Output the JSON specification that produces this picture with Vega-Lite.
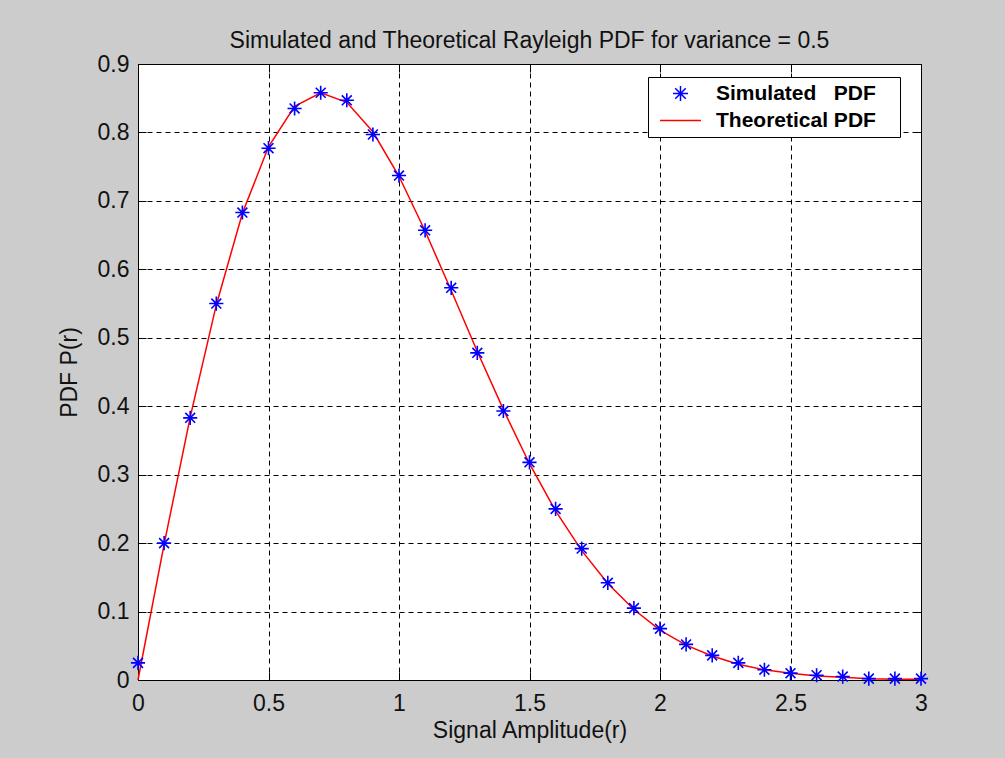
{
  "$schema": "https://vega.github.io/schema/vega-lite/v6.json",
  "autosize": {"type": "none"},
  "padding": {"left": 138, "top": 64, "right": 84, "bottom": 78},
  "width": 783,
  "height": 616,
  "background": "#cccccc",
  "title": {
    "text": "Simulated and Theoretical Rayleigh PDF for variance = 0.5",
    "font": "Liberation Sans",
    "fontSize": 23,
    "fontWeight": "normal",
    "color": "#111111",
    "baseline": "alphabetic",
    "anchor": "middle",
    "offset": 18,
    "dy": 36
  },
  "datasets": {
    "sim": [
      {"r": 0.0, "pdf": 0.025, "series": "Simulated PDF"},
      {"r": 0.1, "pdf": 0.200, "series": "Simulated PDF"},
      {"r": 0.2, "pdf": 0.383, "series": "Simulated PDF"},
      {"r": 0.3, "pdf": 0.550, "series": "Simulated PDF"},
      {"r": 0.4, "pdf": 0.683, "series": "Simulated PDF"},
      {"r": 0.5, "pdf": 0.777, "series": "Simulated PDF"},
      {"r": 0.6, "pdf": 0.835, "series": "Simulated PDF"},
      {"r": 0.7, "pdf": 0.858, "series": "Simulated PDF"},
      {"r": 0.8, "pdf": 0.847, "series": "Simulated PDF"},
      {"r": 0.9, "pdf": 0.797, "series": "Simulated PDF"},
      {"r": 1.0, "pdf": 0.737, "series": "Simulated PDF"},
      {"r": 1.1, "pdf": 0.657, "series": "Simulated PDF"},
      {"r": 1.2, "pdf": 0.573, "series": "Simulated PDF"},
      {"r": 1.3, "pdf": 0.478, "series": "Simulated PDF"},
      {"r": 1.4, "pdf": 0.393, "series": "Simulated PDF"},
      {"r": 1.5, "pdf": 0.318, "series": "Simulated PDF"},
      {"r": 1.6, "pdf": 0.250, "series": "Simulated PDF"},
      {"r": 1.7, "pdf": 0.192, "series": "Simulated PDF"},
      {"r": 1.8, "pdf": 0.142, "series": "Simulated PDF"},
      {"r": 1.9, "pdf": 0.105, "series": "Simulated PDF"},
      {"r": 2.0, "pdf": 0.075, "series": "Simulated PDF"},
      {"r": 2.1, "pdf": 0.052, "series": "Simulated PDF"},
      {"r": 2.2, "pdf": 0.036, "series": "Simulated PDF"},
      {"r": 2.3, "pdf": 0.025, "series": "Simulated PDF"},
      {"r": 2.4, "pdf": 0.015, "series": "Simulated PDF"},
      {"r": 2.5, "pdf": 0.010, "series": "Simulated PDF"},
      {"r": 2.6, "pdf": 0.007, "series": "Simulated PDF"},
      {"r": 2.7, "pdf": 0.005, "series": "Simulated PDF"},
      {"r": 2.8, "pdf": 0.002, "series": "Simulated PDF"},
      {"r": 2.9, "pdf": 0.002, "series": "Simulated PDF"},
      {"r": 3.0, "pdf": 0.002, "series": "Simulated PDF"}
    ],
    "theo": [
      {"r": 0.0, "pdf": 0.000, "series": "Theoretical PDF"},
      {"r": 0.1, "pdf": 0.198, "series": "Theoretical PDF"},
      {"r": 0.2, "pdf": 0.384, "series": "Theoretical PDF"},
      {"r": 0.3, "pdf": 0.548, "series": "Theoretical PDF"},
      {"r": 0.4, "pdf": 0.682, "series": "Theoretical PDF"},
      {"r": 0.5, "pdf": 0.779, "series": "Theoretical PDF"},
      {"r": 0.6, "pdf": 0.838, "series": "Theoretical PDF"},
      {"r": 0.7, "pdf": 0.858, "series": "Theoretical PDF"},
      {"r": 0.8, "pdf": 0.844, "series": "Theoretical PDF"},
      {"r": 0.9, "pdf": 0.801, "series": "Theoretical PDF"},
      {"r": 1.0, "pdf": 0.736, "series": "Theoretical PDF"},
      {"r": 1.1, "pdf": 0.656, "series": "Theoretical PDF"},
      {"r": 1.2, "pdf": 0.569, "series": "Theoretical PDF"},
      {"r": 1.3, "pdf": 0.480, "series": "Theoretical PDF"},
      {"r": 1.4, "pdf": 0.395, "series": "Theoretical PDF"},
      {"r": 1.5, "pdf": 0.316, "series": "Theoretical PDF"},
      {"r": 1.6, "pdf": 0.247, "series": "Theoretical PDF"},
      {"r": 1.7, "pdf": 0.189, "series": "Theoretical PDF"},
      {"r": 1.8, "pdf": 0.141, "series": "Theoretical PDF"},
      {"r": 1.9, "pdf": 0.103, "series": "Theoretical PDF"},
      {"r": 2.0, "pdf": 0.073, "series": "Theoretical PDF"},
      {"r": 2.1, "pdf": 0.051, "series": "Theoretical PDF"},
      {"r": 2.2, "pdf": 0.035, "series": "Theoretical PDF"},
      {"r": 2.3, "pdf": 0.023, "series": "Theoretical PDF"},
      {"r": 2.4, "pdf": 0.015, "series": "Theoretical PDF"},
      {"r": 2.5, "pdf": 0.010, "series": "Theoretical PDF"},
      {"r": 2.6, "pdf": 0.006, "series": "Theoretical PDF"},
      {"r": 2.7, "pdf": 0.004, "series": "Theoretical PDF"},
      {"r": 2.8, "pdf": 0.002, "series": "Theoretical PDF"},
      {"r": 2.9, "pdf": 0.001, "series": "Theoretical PDF"},
      {"r": 3.0, "pdf": 0.001, "series": "Theoretical PDF"}
    ]
  },
  "layer": [
    {
      "data": {"name": "theo"},
      "mark": {"type": "line", "color": "#ff0000", "strokeWidth": 1.5},
      "encoding": {
        "x": {
          "field": "r", "type": "quantitative",
          "scale": {"domain": [0, 3], "nice": false, "zero": false},
          "axis": {
            "orient": "bottom",
            "values": [0, 0.5, 1, 1.5, 2, 2.5, 3],
            "title": "Signal Amplitude(r)",
            "grid": true,
            "tickSize": -8,
            "labelPadding": 20,
            "titlePadding": 4,
            "format": "~g",
            "labelFlush": false,
            "labelOverlap": false
          }
        },
        "y": {
          "field": "pdf", "type": "quantitative",
          "scale": {"domain": [0, 0.9], "nice": false, "zero": false},
          "axis": {
            "orient": "left",
            "values": [0, 0.1, 0.2, 0.3, 0.4, 0.5, 0.6, 0.7, 0.8, 0.9],
            "title": "PDF P(r)",
            "grid": true,
            "tickSize": -8,
            "labelPadding": 17,
            "titlePadding": 16,
            "format": "~g",
            "labelFlush": false,
            "labelOverlap": false
          }
        },
        "color": {
          "field": "series", "type": "nominal",
          "scale": {"domain": ["Simulated PDF", "Theoretical PDF"], "range": ["#0000ff", "#ff0000"]},
          "legend": {
            "orient": "none", "legendX": 510, "legendY": 13, "title": null,
            "padding": 6, "strokeColor": "#000000", "fillColor": "#ffffff",
            "labelFont": "Liberation Sans", "labelFontSize": 21, "labelFontWeight": "bold", "labelColor": "#000000", "labelLimit": 400,
            "symbolOffset": 16, "labelOffset": 25, "rowPadding": 5, "symbolSize": 225, "symbolStrokeWidth": 1.5,
            "labelExpr": "datum.label === 'Simulated PDF' ? 'Simulated\u00a0\u00a0\u00a0PDF\u00a0\u00a0\u00a0\u200b' : datum.label + '\u00a0\u00a0\u00a0\u200b'",
            "encode": {"symbols": {"update": {"size": {"signal": "datum.value === 'Theoretical PDF' ? 1681 : 225"}, "strokeWidth": {"value": 1.5}}}}
          }
        }
      }
    },
    {
      "data": {"name": "sim"},
      "mark": {"type": "point", "filled": false, "opacity": 1, "strokeWidth": 1.6, "size": 200},
      "encoding": {
        "x": {
          "field": "r", "type": "quantitative",
          "axis": {"orient": "top", "values": [0, 0.5, 1, 1.5, 2, 2.5, 3], "labels": false, "title": null, "grid": false, "tickSize": -8}
        },
        "y": {
          "field": "pdf", "type": "quantitative",
          "axis": {"orient": "right", "values": [0, 0.1, 0.2, 0.3, 0.4, 0.5, 0.6, 0.7, 0.8, 0.9], "labels": false, "title": null, "grid": false, "tickSize": -8}
        },
        "color": {"field": "series", "type": "nominal"},
        "shape": {
          "field": "series", "type": "nominal",
          "scale": {"domain": ["Simulated PDF", "Theoretical PDF"], "range": ["M-1,0L1,0M0,-1L0,1M-0.7,-0.7L0.7,0.7M-0.7,0.7L0.7,-0.7", "stroke"]},
          "legend": {
            "orient": "none", "legendX": 510, "legendY": 13, "title": null,
            "padding": 6, "strokeColor": "#000000", "fillColor": "#ffffff",
            "labelFont": "Liberation Sans", "labelFontSize": 21, "labelFontWeight": "bold", "labelColor": "#000000", "labelLimit": 400,
            "symbolOffset": 16, "labelOffset": 25, "rowPadding": 5, "symbolSize": 225, "symbolStrokeWidth": 1.5,
            "labelExpr": "datum.label === 'Simulated PDF' ? 'Simulated\u00a0\u00a0\u00a0PDF\u00a0\u00a0\u00a0\u200b' : datum.label + '\u00a0\u00a0\u00a0\u200b'",
            "encode": {"symbols": {"update": {"size": {"signal": "datum.value === 'Theoretical PDF' ? 1681 : 225"}, "strokeWidth": {"value": 1.5}}}}
          }
        }
      }
    }
  ],
  "config": {
    "view": {"stroke": "#000000", "strokeWidth": 1, "fill": "#ffffff"},
    "axis": {
      "domain": false,
      "tickColor": "#000000",
      "tickWidth": 1,
      "gridColor": "#000000",
      "gridOpacity": 1,
      "gridWidth": 1,
      "gridDash": [5, 4],
      "labelFont": "Liberation Sans",
      "labelFontSize": 23,
      "labelColor": "#111111",
      "titleFont": "Liberation Sans",
      "titleFontSize": 23,
      "titleFontWeight": "normal",
      "titleColor": "#111111"
    }
  }
}
